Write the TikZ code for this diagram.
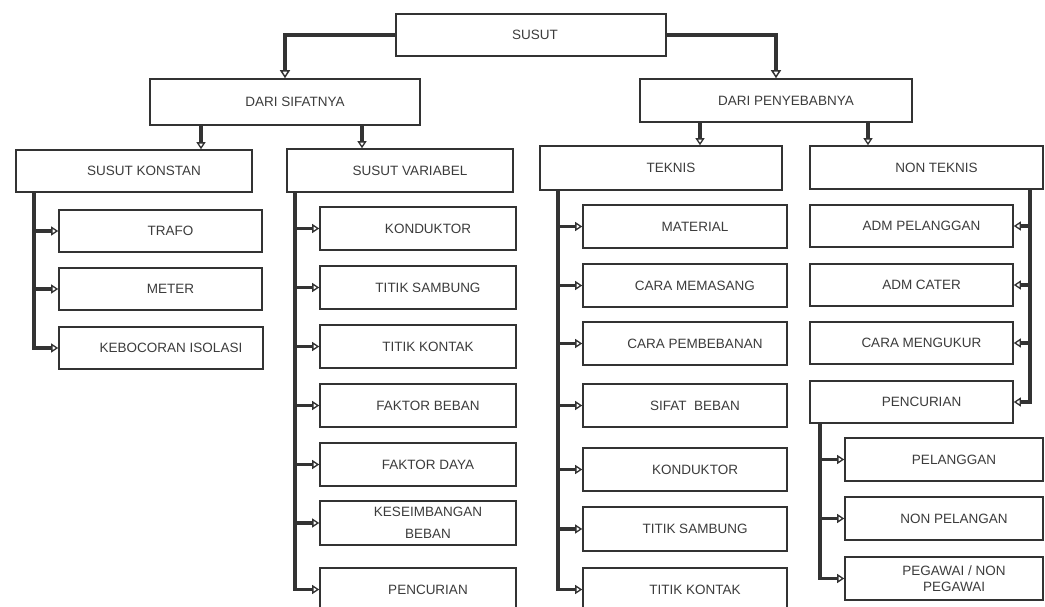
\documentclass[tikz,border=0pt]{standalone}
\usepackage{fontspec}
\setmainfont{Liberation Sans}
\usetikzlibrary{arrows.meta}
\definecolor{ink}{HTML}{333333}
\definecolor{txt}{HTML}{3C3C3C}
\newcommand{\sh}{\hspace*{20pt}}
\tikzset{
  box/.style={draw=ink, line width=1.6, fill=white, inner sep=2pt, align=center,
    text=txt, font=\fontsize{13.5}{14.5}\selectfont, minimum height=43},
  arr/.style={draw=ink, line width=3.5, line join=miter,
    -{Triangle[length=7, width=9, fill=white, line width=1.3]}},
  main/.style={draw=ink, line width=4.5, line join=miter,
    -{Triangle[length=8, width=10, fill=white, line width=1.5]}},
  bus/.style={draw=ink, line width=3.5}
}
\begin{document}
\begin{tikzpicture}[x=1pt, y=-1pt]
\clip (0,0) rectangle (1045,606);
\fill[white] (0,0) rectangle (1045,606);
% level 0-2
\node[box, minimum width=270, minimum height=42] (susut) at (531,35) {\hspace*{8pt}SUSUT};
\node[box, minimum width=270, minimum height=46] (sifat) at (285,102) {\sh DARI SIFATNYA};
\node[box, minimum width=272] (sebab) at (776,100.5) {\sh DARI PENYEBABNYA};
\node[box, minimum width=236, minimum height=42] (konstan) at (134,171) {\sh SUSUT KONSTAN};
\node[box, minimum width=226] (variabel) at (400,170.5) {\sh SUSUT VARIABEL};
\node[box, minimum width=242, minimum height=44] (teknis) at (661,168) {\sh TEKNIS};
\node[box, minimum width=233] (nonteknis) at (926.5,167.5) {\sh NON TEKNIS};
% konstan children
\node[box, minimum width=203, minimum height=42] (trafo) at (160.5,231) {\sh TRAFO};
\node[box, minimum width=203, minimum height=42] (meter) at (160.5,289) {\sh METER};
\node[box, minimum width=204, minimum height=42] (bocor) at (161,348) {\sh KEBOCORAN ISOLASI};
% variabel children
\node[box, minimum width=196] (v1) at (418,228.5) {\sh KONDUKTOR};
\node[box, minimum width=196] (v2) at (418,287.5) {\sh TITIK SAMBUNG};
\node[box, minimum width=196] (v3) at (418,346.5) {\sh TITIK KONTAK};
\node[box, minimum width=196] (v4) at (418,405.5) {\sh FAKTOR BEBAN};
\node[box, minimum width=196] (v5) at (418,464.5) {\sh FAKTOR DAYA};
\node[box, minimum width=196, minimum height=44, inner ysep=0pt] (v6) at (418,523) {\sh KESEIMBANGAN\\[8pt]\sh BEBAN};
\node[box, minimum width=196] (v7) at (418,589.5) {\sh PENCURIAN};
% teknis children
\node[box, minimum width=204] (t1) at (685,226.5) {\sh MATERIAL};
\node[box, minimum width=204] (t2) at (685,285.5) {\sh CARA MEMASANG};
\node[box, minimum width=204] (t3) at (685,343.5) {\sh CARA PEMBEBANAN};
\node[box, minimum width=204] (t4) at (685,405.5) {\sh SIFAT\ \ BEBAN};
\node[box, minimum width=204] (t5) at (685,469.5) {\sh KONDUKTOR};
\node[box, minimum width=204, minimum height=44] (t6) at (685,529) {\sh TITIK SAMBUNG};
\node[box, minimum width=204] (t7) at (685,589.5) {\sh TITIK KONTAK};
% non teknis children
\node[box, minimum width=203, minimum height=42] (n1) at (911.5,226) {\sh ADM PELANGGAN};
\node[box, minimum width=203, minimum height=42] (n2) at (911.5,285) {\sh ADM CATER};
\node[box, minimum width=203, minimum height=42] (n3) at (911.5,343) {\sh CARA MENGUKUR};
\node[box, minimum width=203, minimum height=42] (n4) at (911.5,402) {\sh PENCURIAN};
% pencurian children
\node[box, minimum width=198] (p1) at (944,459.5) {\sh PELANGGAN};
\node[box, minimum width=198] (p2) at (944,518.5) {\sh NON PELANGAN};
\node[box, minimum width=198] (p3) at (944,578.5) {\sh PEGAWAI / NON\\[2pt]\sh PEGAWAI};
% bus x positions
\coordinate (kx) at (34,0);
\coordinate (vx) at (295,0);
\coordinate (tx) at (558,0);
\coordinate (nx) at (1030,0);
\coordinate (px) at (820,0);
\coordinate (a1) at (201,0);
\coordinate (a2) at (362,0);
\coordinate (a3) at (700,0);
\coordinate (a4) at (868,0);
% top connectors
\draw[main] (susut.west) -| (sifat.north);
\draw[main] (susut.east) -| (sebab.north);
\draw[arr] (a1 |- sifat.south) -- (a1 |- konstan.north);
\draw[arr] (a2 |- sifat.south) -- (a2 |- variabel.north);
\draw[arr] (a3 |- sebab.south) -- (a3 |- teknis.north);
\draw[arr] (a4 |- sebab.south) -- (a4 |- nonteknis.north);
% konstan bus
\draw[arr] (kx |- konstan.south) -- (kx |- bocor.west) -- (bocor.west);
\foreach \c in {trafo,meter} \draw[arr] (kx |- \c.west) -- (\c.west);
% variabel bus
\draw[arr] (vx |- variabel.south) -- (vx |- v7.west) -- (v7.west);
\foreach \c in {v1,v2,v3,v4,v5,v6} \draw[arr] (vx |- \c.west) -- (\c.west);
% teknis bus
\draw[arr] (tx |- teknis.south) -- (tx |- t7.west) -- (t7.west);
\foreach \c in {t1,t2,t3,t4,t5,t6} \draw[arr] (tx |- \c.west) -- (\c.west);
% non teknis bus
\draw[arr] (nx |- nonteknis.south) -- (nx |- n4.east) -- (n4.east);
\foreach \c in {n1,n2,n3} \draw[arr] (nx |- \c.east) -- (\c.east);
% pencurian bus
\draw[arr] (px |- n4.south) -- (px |- p3.west) -- (p3.west);
\foreach \c in {p1,p2} \draw[arr] (px |- \c.west) -- (\c.west);
\end{tikzpicture}
\end{document}
